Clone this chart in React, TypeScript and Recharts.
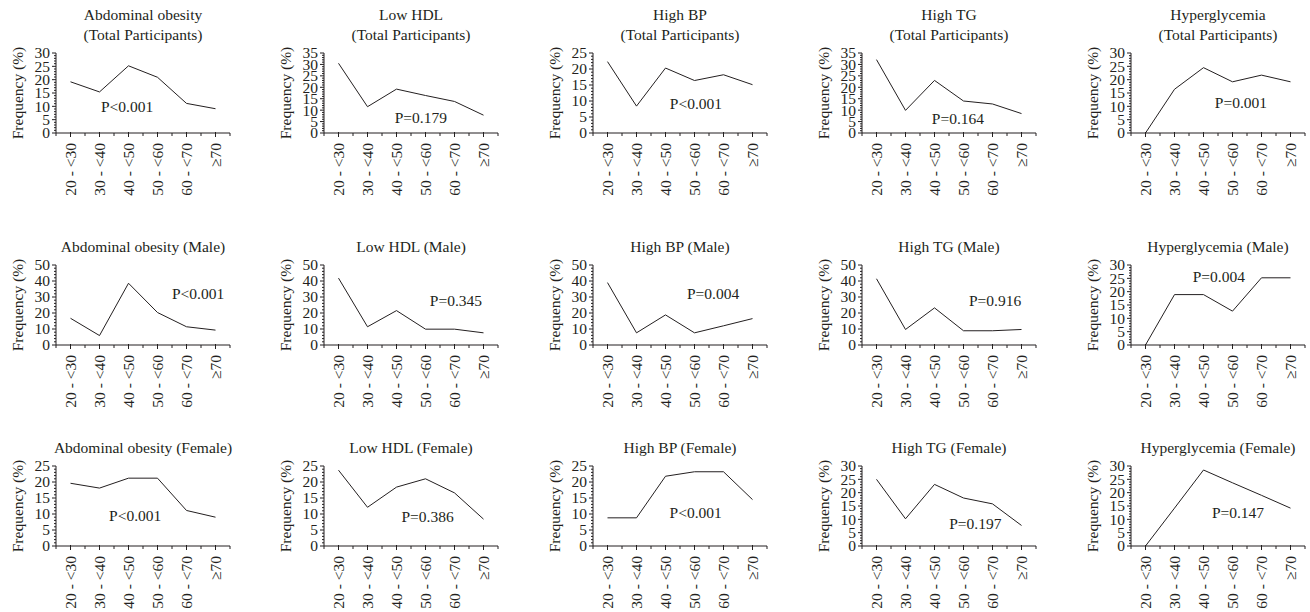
import React from 'react';
import { LineChart, Line, XAxis, YAxis, ReferenceDot } from 'recharts';

const categories = ['20 - <30', '30 - <40', '40 - <50', '50 - <60', '60 - <70', '≥70'];

const titles = [
    ['Abdominal obesity', '(Total Participants)'],
    ['Low HDL', '(Total Participants)'],
    ['High BP', '(Total Participants)'],
    ['High TG', '(Total Participants)'],
    ['Hyperglycemia', '(Total Participants)'],
    ['Abdominal obesity (Male)'],
    ['Low HDL (Male)'],
    ['High BP (Male)'],
    ['High TG (Male)'],
    ['Hyperglycemia (Male)'],
    ['Abdominal obesity (Female)'],
    ['Low HDL (Female)'],
    ['High BP (Female)'],
    ['High TG (Female)'],
    ['Hyperglycemia (Female)'],
];

const abdominalTotal = [19.2, 15.4, 25.2, 20.9, 11.1, 9.1];
const lowHdlTotal = [30.5, 11.5, 19.2, 16.4, 13.8, 7.8];
const highBpTotal = [22.3, 8.4, 20.3, 16.4, 18.2, 15.1];
const highTgTotal = [32.1, 9.9, 23.0, 14.0, 12.7, 8.5];
const hyperTotal = [0, 16.4, 24.5, 19.2, 21.7, 19.2];
const abdominalMale = [16.7, 5.9, 38.6, 20.3, 11.4, 9.3];
const lowHdlMale = [41.8, 11.4, 21.5, 9.9, 9.9, 7.6];
const highBpMale = [39.0, 7.6, 18.8, 7.6, 12.0, 16.5];
const highTgMale = [41.4, 9.7, 23.2, 8.9, 8.9, 9.7];
const hyperMale = [0, 18.9, 18.9, 12.7, 25.2, 25.2];
const abdominalFemale = [19.6, 18.1, 21.2, 21.2, 11.1, 9.0];
const lowHdlFemale = [23.7, 12.1, 18.4, 21.0, 16.6, 8.4];
const highBpFemale = [8.8, 8.8, 21.8, 23.2, 23.2, 14.5];
const highTgFemale = [25.0, 10.2, 23.1, 18.0, 15.8, 7.7];
const hyperFemale = [0, 14.2, 28.5, 23.7, 19.0, 14.2];

const series = [
    abdominalTotal, lowHdlTotal, highBpTotal, highTgTotal, hyperTotal,
    abdominalMale, lowHdlMale, highBpMale, highTgMale, hyperMale,
    abdominalFemale, lowHdlFemale, highBpFemale, highTgFemale, hyperFemale,
];

const yMax = [30, 35, 25, 35, 30, 50, 50, 50, 50, 30, 25, 25, 25, 30, 30];

const pLabels = [
    'P<0.001', 'P=0.179', 'P<0.001', 'P=0.164', 'P=0.001',
    'P<0.001', 'P=0.345', 'P=0.004', 'P=0.916', 'P=0.004',
    'P<0.001', 'P=0.386', 'P<0.001', 'P=0.197', 'P=0.147',
];
// where each P label sits, in category index / frequency units
const pAtX = [1.95, 2.84, 3.05, 2.81, 3.29, 4.4, 4.05, 3.64, 4.09, 2.53, 2.23, 3.07, 3.04, 3.41, 3.19];
const pAtY = [9.8, 6.6, 9.2, 6.3, 11.3, 32, 27.8, 32, 27.8, 25.6, 9.5, 9.2, 10.5, 8.3, 12.6];

const colAxisX = [56, 324, 593, 862, 1131];
const rowTop = [53, 265, 466];

const FONT = "'Liberation Serif', 'Times New Roman', serif";
const INK = '#231f20';
const FS = 15.5;

const YW = 60;
const PW = 174;
const PH = 80;
const MT = 8;
const MR = 14;
const XH = 66;

const xTicks = Array.from({ length: 13 }, (_, i) => -0.5 + i * 0.5);

function XTick({ x, y, payload }: any) {
    const v = payload.value;
    const major = Number.isInteger(v);
    const ty = y + 10;
    return (
        <g>
            <line x1={x} x2={x} y1={y - (major ? 1 : 0)} y2={y + (major ? 4 : 3)} stroke={INK} />
            {major && (
                <text
                    x={x}
                    y={ty}
                    dy="0.35em"
                    textAnchor="end"
                    transform={`rotate(-90, ${x}, ${ty})`}
                    fill={INK}
                    fontSize={FS}
                    fontFamily={FONT}
                >
                    {categories[v]}
                </text>
            )}
        </g>
    );
}

function makeYTick(majorStep: number) {
    return function YTick({ x, y, payload }: any) {
        const v = payload.value;
        const major = v % majorStep === 0;
        return (
            <g>
                <line x1={x - (major ? 4 : 2)} x2={x} y1={y} y2={y} stroke={INK} />
                {major && (
                    <text x={x - 6} y={y} dy="0.35em" textAnchor="end" fill={INK} fontSize={FS} fontFamily={FONT}>
                        {v}
                    </text>
                )}
            </g>
        );
    };
}

function Panel({ idx }: { idx: number }) {
    const col = idx % 5;
    const row = Math.floor(idx / 5);
    const left = colAxisX[col] - YW;
    const top = rowTop[row] - MT;
    const width = YW + PW + MR;
    const height = MT + PH + XH;
    const max = yMax[idx];
    const majorStep = max >= 50 ? 10 : 5;
    const minorStep = max >= 50 ? 2 : 1;
    const yTicks = Array.from({ length: max / minorStep + 1 }, (_, i) => i * minorStep);
    const data = series[idx].map((v, i) => ({ x: i, v }));
    const title = titles[idx];

    return (
        <>
            <div
                style={{
                    position: 'absolute',
                    left: colAxisX[col],
                    width: PW,
                    top: rowTop[row] - 8 - title.length * 20,
                    display: 'flex',
                    flexDirection: 'column',
                    alignItems: 'center',
                    fontFamily: FONT,
                    fontSize: FS,
                    lineHeight: '20px',
                    color: INK,
                    whiteSpace: 'nowrap',
                }}
            >
                {title.map((t) => (
                    <div key={t}>{t}</div>
                ))}
            </div>
            <div style={{ position: 'absolute', left, top, width, height }}>
                <LineChart width={width} height={height} data={data} margin={{ top: MT, right: MR, bottom: 0, left: 0 }}>
                    <XAxis
                        dataKey="x"
                        type="number"
                        domain={[-0.5, 5.5]}
                        ticks={xTicks}
                        interval={0}
                        height={XH}
                        stroke={INK}
                        tickLine={false}
                        tickSize={0}
                        tickMargin={0}
                        tick={<XTick />}
                        allowDecimals
                    />
                    <YAxis
                        type="number"
                        domain={[0, max]}
                        ticks={yTicks}
                        interval={0}
                        width={YW}
                        stroke={INK}
                        tickLine={false}
                        tickSize={0}
                        tickMargin={0}
                        tick={makeYTick(majorStep)}
                        label={{
                            value: 'Frequency (%)',
                            angle: -90,
                            position: 'center',
                            dx: -9,
                            style: { fill: INK, fontSize: FS, fontFamily: FONT },
                        }}
                    />
                    <Line
                        dataKey="v"
                        type="linear"
                        stroke={INK}
                        strokeWidth={1}
                        dot={false}
                        activeDot={false}
                        isAnimationActive={false}
                    />
                    <ReferenceDot
                        x={pAtX[idx]}
                        y={pAtY[idx]}
                        r={1}
                        fill="none"
                        stroke="none"
                        label={{
                            value: pLabels[idx],
                            position: 'center',
                            style: { fill: INK, fontSize: FS, fontFamily: FONT },
                        }}
                    />
                </LineChart>
            </div>
        </>
    );
}

export default function App() {
    return (
        <div style={{ position: 'absolute', left: 0, top: 0, width: 1310, height: 612, background: '#fff' }}>
            {series.map((_, i) => (
                <Panel key={i} idx={i} />
            ))}
        </div>
    );
}
